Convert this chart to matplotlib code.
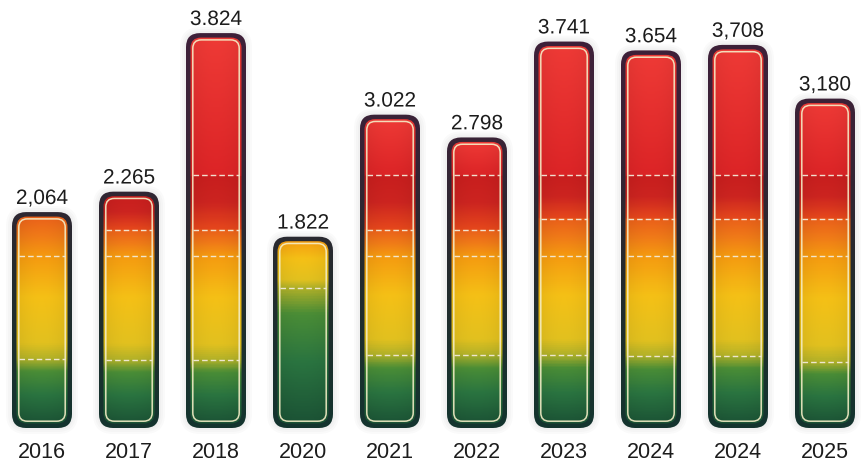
import numpy as np
import matplotlib
matplotlib.use('Agg')
import matplotlib.pyplot as plt
import matplotlib.patheffects as pe
from matplotlib.colors import LinearSegmentedColormap
from matplotlib.patches import FancyBboxPatch

years = ['2016', '2017', '2018', '2020', '2021', '2022', '2023', '2024', '2024', '2025']
values = [2.064, 2.265, 3.824, 1.822, 3.022, 2.798, 3.741, 3.654, 3.708, 3.180]
value_labels = ['2,064', '2.265', '3.824', '1.822', '3.022', '2.798',
                '3.741', '3.654', '3,708', '3,180']
# dashed band boundaries inside each bar
bands = [
    [0.65, 1.66],
    [0.64, 1.66, 1.92],
    [0.64, 1.66, 1.92, 2.46],
    [1.35],
    [0.69, 1.66, 1.92, 2.46],
    [0.69, 1.66, 1.92, 2.46],
    [0.69, 1.66, 2.03, 2.46],
    [0.68, 1.66, 2.03, 2.46],
    [0.68, 1.66, 2.03, 2.46],
    [0.62, 1.66, 2.03, 2.46],
]

W, H, DPI = 861, 463, 100
PX_X = 87.0     # pixels per category step
PX_Y = 101.7    # pixels per value unit
BASE_PX = 38    # baseline height above the bottom edge
LEFT_PX = 42    # centre of the first bar

# colour along the band index (0 = bottom band, 5 = top of red band)
fill_nodes = [(0.0, '#1b5235'), (0.45, '#2a7440'), (0.8, '#4a8d36'),
              (1.0, '#b4b228'), (1.15, '#e2c11f'), (1.6, '#f5c016'),
              (2.0, '#f59a10'), (2.5, '#f07a18'), (2.98, '#ea601a'),
              (3.0, '#e6481c'), (3.5, '#cc2420'), (3.98, '#c81e1e'),
              (4.0, '#dc2426'), (5.0, '#ee3a36')]
fill_cmap = LinearSegmentedColormap.from_list(
    'bands', [(t / 5.0, c) for t, c in fill_nodes])
edge_cmap = LinearSegmentedColormap.from_list(
    'edge', [(0.0, '#14342e'), (0.4, '#252b2e'), (0.75, '#3a2337'),
             (1.0, '#3e2039')])

fig = plt.figure(figsize=(W / DPI, H / DPI), dpi=DPI)
fig.patch.set_facecolor('white')
ax = fig.add_axes([0, 0, 1, 1])
ax.set_axis_off()


def rounded(x, y0, y1, half_px, r_px, **kw):
    hw = half_px / PX_X
    p = FancyBboxPatch((x - hw, y0), 2 * hw, y1 - y0,
                       boxstyle='round,pad=0,rounding_size=%f' % (r_px / PX_X),
                       mutation_aspect=PX_X / PX_Y, **kw)
    ax.add_patch(p)
    return p


for i, (v, lab, lv) in enumerate(zip(values, value_labels, bands)):
    x = i

    # soft shadow
    for k in range(3):
        g = 2 + 2 * k
        rounded(x, -(3 + g) / PX_Y, v + (3 + g) / PX_Y, 30 + g, 14 + g,
                fc='black', lw=0, alpha=0.018, zorder=1)

    # dark rim, purple at the top fading to teal at the bottom
    outer = rounded(x, -3 / PX_Y, v + 3 / PX_Y, 30, 14, fc='none', lw=0, zorder=2)
    ys = np.linspace(-0.05, v + 0.05, 200)
    rim = edge_cmap(np.clip(ys / 3.8, 0, 1))[:, None, :3]
    im = ax.imshow(rim, extent=[x - 0.4, x + 0.4, ys[0], ys[-1]], origin='lower',
                   aspect='auto', interpolation='bilinear', zorder=2)
    im.set_clip_path(outer)

    # band fill
    inner = rounded(x, 1.5 / PX_Y, v - 1.5 / PX_Y, 25.5, 10.5, fc='none', lw=0, zorder=3)
    ys = np.linspace(0, v, 400)
    t = np.interp(ys, [0] + lv + [v], np.arange(len(lv) + 2))
    col = fill_cmap(t / 5.0)[:, :3]
    u = np.linspace(-1, 1, 40)
    shade = 1.0 - 0.07 * u ** 2
    img = col[:, None, :] * shade[None, :, None]
    im = ax.imshow(np.clip(img, 0, 1), extent=[x - 0.32, x + 0.32, 0, v],
                   origin='lower', aspect='auto', interpolation='bilinear', zorder=3)
    im.set_clip_path(inner)

    # cream inner highlight
    rounded(x, 3.8 / PX_Y, v - 3.8 / PX_Y, 23.2, 8.5, fc='none',
            ec='#f6efc8', lw=1.1, alpha=0.9, zorder=4)

    # dashed band boundaries
    hw = 23.2 / PX_X
    for level in lv:
        ax.plot([x - hw, x + hw], [level, level], color='#f3ead8', lw=1.0,
                ls=(0, (4, 2.2)), alpha=0.95, zorder=5)

    ax.annotate(lab, (x, v), xytext=(0, 8), textcoords='offset points',
                ha='center', va='baseline', fontsize=15, color='#1c1c1c',
                family='Liberation Sans', zorder=6,
                path_effects=[pe.withStroke(linewidth=2.5, foreground='white')])
    ax.text(x, -(BASE_PX - 5) / PX_Y, years[i], ha='center', va='baseline',
            fontsize=15.5, color='#1c1c1c', family='Liberation Sans', zorder=6)

ax.set_xlim(-LEFT_PX / PX_X, (W - LEFT_PX) / PX_X)
ax.set_ylim(-BASE_PX / PX_Y, (H - BASE_PX) / PX_Y)

fig.savefig('out.png', dpi=DPI, facecolor='white')
